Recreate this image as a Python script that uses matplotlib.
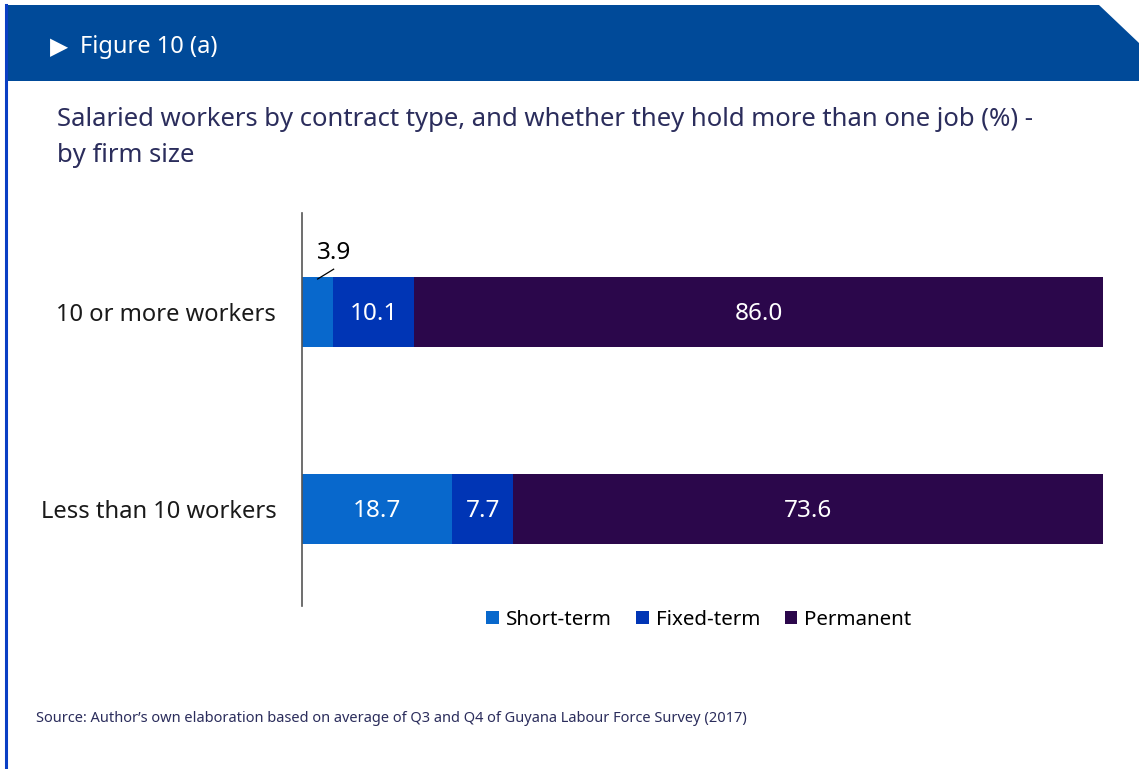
import matplotlib.pyplot as plt
from matplotlib.patches import Polygon
from matplotlib.lines import Line2D

plt.rcParams['font.family'] = ['Noto Sans', 'DejaVu Sans']

# stacked shares (%) by firm size, bottom row first
firm_sizes = ['Less than 10 workers', '10 or more workers']
short_term = [18.7, 3.9]
fixed_term = [7.7, 10.1]
permanent = [73.6, 86.0]
series_names = ['Short-term', 'Fixed-term', 'Permanent']
colors = ['#0868CC', '#0035B5', '#2B074B']

W, H = 1139, 769
fig = plt.figure(figsize=(W / 100, H / 100), dpi=100)

# blue header band with the clipped top-right corner, and the left frame line
header = Polygon([(5 / W, 1 - 81 / H), (5 / W, 1 - 5 / H), (1099 / W, 1 - 5 / H),
                  (1139 / W, 1 - 43 / H), (1139 / W, 1 - 81 / H)],
                 closed=True, transform=fig.transFigure, facecolor='#004A99',
                 edgecolor='none')
fig.patches.append(header)
fig.add_artist(Line2D([6 / W, 6 / W], [0, 1 - 5 / H], transform=fig.transFigure,
                      color='#0A3FC4', lw=2.2))

fig.text(50 / W, 1 - 47 / H, '\u25B6', color='white', fontsize=17,
         va='center', ha='left', family=['DejaVu Sans'])
fig.text(80 / W, 1 - 47 / H, 'Figure 10 (a)', color='white', fontsize=17,
         va='center', ha='left')
fig.text(57 / W, 1 - 120 / H,
         'Salaried workers by contract type, and whether they hold more than one job (%) -',
         color='#2B2D5C', fontsize=18.5, va='center', ha='left')
fig.text(57 / W, 1 - 155 / H, 'by firm size', color='#2B2D5C', fontsize=18.5,
         va='center', ha='left')
fig.text(36 / W, 1 - 719 / H,
         'Source: Author\u2019s own elaboration based on average of Q3 and Q4 of Guyana Labour Force Survey (2017)',
         color='#2B2D5C', fontsize=10.5, va='center', ha='left')

ax = fig.add_axes([302 / W, 1 - 606 / H, 801 / W, 393 / H])
ypos = [0, 1]
bar_h = 0.356
left = [0, 0]
bars = []
for name, vals, c in zip(series_names, [short_term, fixed_term, permanent], colors):
    b = ax.barh(ypos, vals, left=left, height=bar_h, color=c, label=name,
                edgecolor='none')
    bars.append(b)
    for y, v, l in zip(ypos, vals, left):
        if v >= 5:
            ax.text(l + v / 2, y - 0.012, f'{v:.1f}', color='white', fontsize=17.5,
                    ha='center', va='center')
        else:
            # small segment: label sits above the bar with a short leader
            top = y + bar_h / 2
            ax.plot([l + v / 2, l + v / 2 + 2.0], [top - 0.01, top + 0.04],
                    color='black', lw=0.9, clip_on=False)
            ax.text(l + v / 2 + 2.1, y + 0.30, f'{v:.1f}', color='black',
                    fontsize=17.5, ha='center', va='center')
    left = [a + b_ for a, b_ in zip(left, vals)]

ax.set_xlim(0, 100)
ax.set_ylim(-0.496, 1.504)
ax.set_yticks(ypos)
ax.set_yticklabels(firm_sizes, fontsize=17.1, color='#1A1A1A')
ax.tick_params(axis='y', length=0, pad=18.5)
ax.set_xticks([])
for s in ['top', 'right', 'bottom']:
    ax.spines[s].set_visible(False)
ax.spines['left'].set_color('#555555')
ax.spines['left'].set_linewidth(1.2)

fig.legend(handles=bars, labels=series_names, loc='center',
           bbox_to_anchor=(699 / W, 1 - 620 / H), ncol=3, frameon=False,
           fontsize=14.8, handlelength=0.6, handleheight=0.6, handletextpad=0.35,
           columnspacing=1.2)

plt.savefig('out.png', dpi=100)
